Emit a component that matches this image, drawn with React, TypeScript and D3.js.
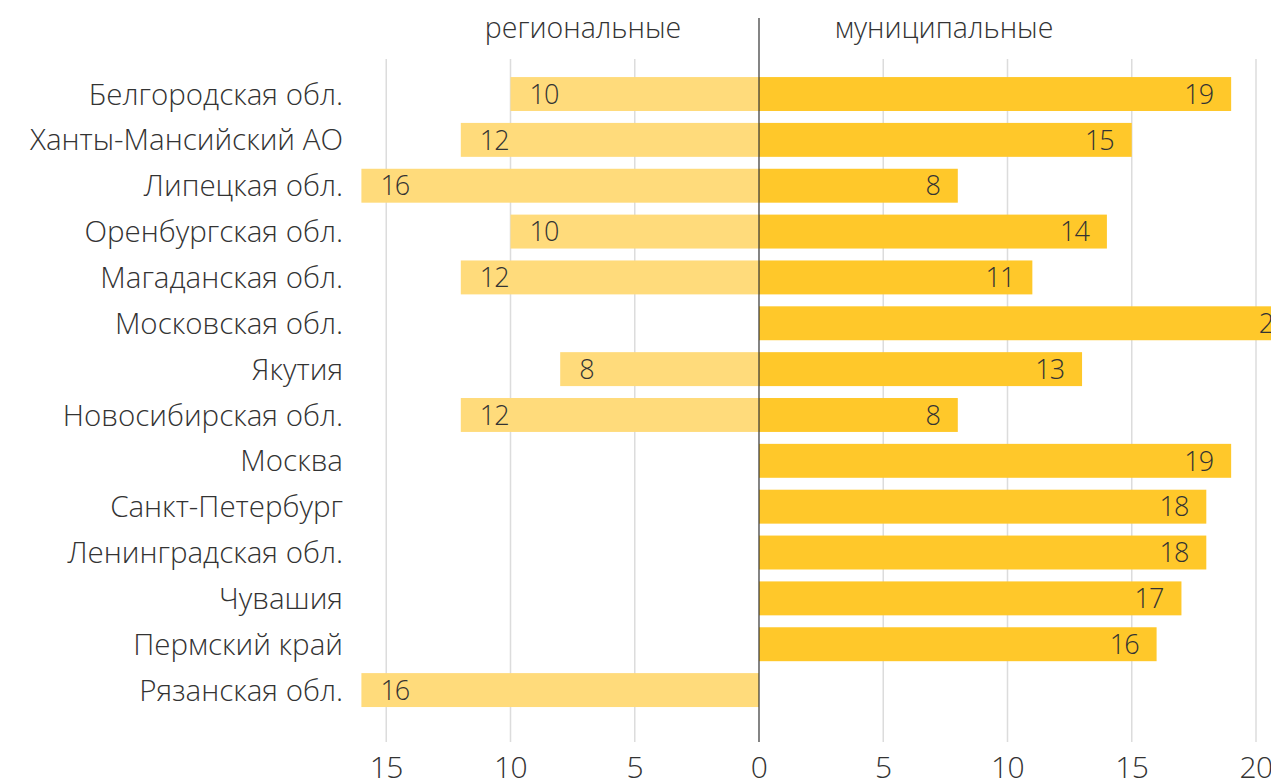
import React from "react";
import * as d3 from "d3";

const categories = [
  "Белгородская обл.",
  "Ханты-Мансийский АО",
  "Липецкая обл.",
  "Оренбургская обл.",
  "Магаданская обл.",
  "Московская обл.",
  "Якутия",
  "Новосибирская обл.",
  "Москва",
  "Санкт-Петербург",
  "Ленинградская обл.",
  "Чувашия",
  "Пермский край",
  "Рязанская обл.",
];
const regional = [10, 12, 16, 10, 12, 0, 8, 12, 0, 0, 0, 0, 0, 16];
const municipal = [19, 15, 8, 14, 11, 22, 13, 8, 19, 18, 18, 17, 16, 0];
const leftTicks = [15, 10, 5, 0];
const rightTicks = [5, 10, 15, 20];
const headers = ["региональные", "муниципальные"];

const FONT = "'Open Sans', sans-serif";

export default function App() {
  const W = 1271;
  const H = 781;
  const center = 759;
  const unit = 24.85;
  const xRight = d3.scaleLinear().domain([0, 20]).range([center, center + 20 * unit]);
  const xLeft = d3.scaleLinear().domain([0, 15]).range([center, center - 15 * unit]);
  const y = d3
    .scaleBand<string>()
    .domain(categories)
    .range([71.1, 713])
    .paddingInner(0.26)
    .paddingOuter(0.13);
  const gridTop = 59;
  const gridBottom = 742;
  const textColor = "#333";

  return (
    <svg
      width={W}
      height={H}
      style={{ position: "absolute", left: 0, top: 0, display: "block" }}
      fontFamily={FONT}
    >
      <rect width={W} height={H} fill="#fff" />
      {leftTicks
        .filter((t) => t !== 0)
        .map((t) => (
          <line key={"gl" + t} x1={xLeft(t)} x2={xLeft(t)} y1={gridTop} y2={gridBottom} stroke="#dcdcdc" strokeWidth={1.5} />
        ))}
      {rightTicks.map((t) => (
        <line key={"gr" + t} x1={xRight(t)} x2={xRight(t)} y1={gridTop} y2={gridBottom} stroke="#dcdcdc" strokeWidth={1.5} />
      ))}
      {categories.map((c, i) => {
        const y0 = y(c)!;
        const bh = y.bandwidth();
        const r = regional[i];
        const m = municipal[i];
        return (
          <g key={c}>
            {r > 0 && (
              <rect x={xLeft(r)} y={y0} width={center - xLeft(r)} height={bh} fill="#ffdb7b" />
            )}
            {m > 0 && (
              <rect x={center} y={y0} width={xRight(m) - center} height={bh} fill="#ffc82a" />
            )}
            {r > 0 && (
              <text x={xLeft(r) + 19} y={y0 + bh / 2} dy="0.36em" fontSize={27} letterSpacing={-1} fontWeight={300} fill={textColor}>
                {r}
              </text>
            )}
            {m > 0 && (
              <text x={xRight(m) - 18} y={y0 + bh / 2} dy="0.36em" textAnchor="end" fontSize={27} letterSpacing={-1} fontWeight={300} fill={textColor}>
                {m}
              </text>
            )}
            <text x={343} y={y0 + bh / 2} dy="0.36em" textAnchor="end" fontSize={29.5} fontWeight={300} fill={textColor}>
              {c}
            </text>
          </g>
        );
      })}
      <line x1={center} x2={center} y1={18} y2={gridBottom} stroke="#333" strokeWidth={1.2} />
      <text x={583} y={28} dy="0.36em" textAnchor="middle" fontSize={28.5} fontWeight={300} fill={textColor}>
        {headers[0]}
      </text>
      <text x={944} y={28} dy="0.36em" textAnchor="middle" fontSize={28.5} fontWeight={300} fill={textColor}>
        {headers[1]}
      </text>
      {leftTicks.map((t) => (
        <text key={"tl" + t} x={xLeft(t)} y={767} dy="0.36em" textAnchor="middle" fontSize={30} letterSpacing={-0.5} fontWeight={300} fill={textColor}>
          {t}
        </text>
      ))}
      {rightTicks.map((t) => (
        <text key={"tr" + t} x={xRight(t)} y={767} dy="0.36em" textAnchor="middle" fontSize={30} letterSpacing={-0.5} fontWeight={300} fill={textColor}>
          {t}
        </text>
      ))}
    </svg>
  );
}
